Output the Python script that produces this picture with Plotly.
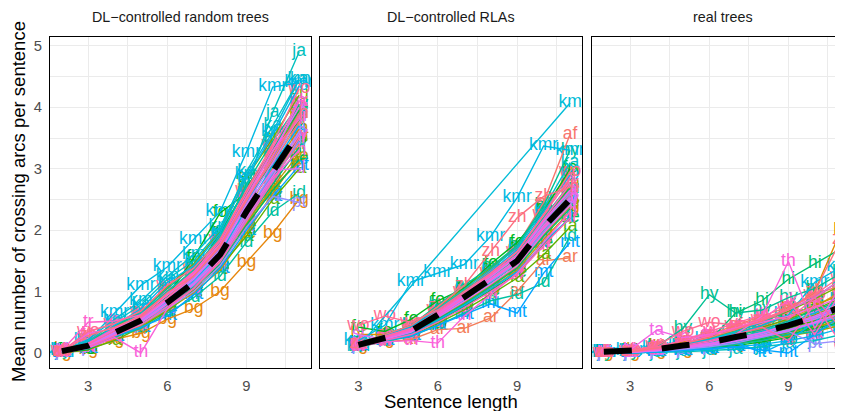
import math
import plotly.graph_objects as go

# ---------------- data ----------------
LANGS = ["af", "ar", "be", "bg", "br", "ca", "cs", "de", "el", "en", "es", "et",
         "eu", "fa", "fi", "fo", "fr", "he", "hi", "hu", "hy", "id", "it", "ja",
         "ka", "km", "kmr", "ko", "lt", "lv", "mt", "nl", "pl", "pt", "ro", "ru",
         "sk", "sl", "sv", "ta", "th", "tr", "uk", "ur", "vi", "wo", "zh"]

PANELS = ["DL\u2212controlled random trees", "DL\u2212controlled RLAs", "real trees"]

X_RANDOM = [2, 3, 4, 5, 6, 7, 8, 9, 10, 11]
X_RLA = [3, 4, 5, 6, 7, 8, 9, 10, 11]
X_REAL = [2, 3, 4, 5, 6, 7, 8, 9, 10, 11]

RANDOM_TREES = {
    "af":  [0.02, 0.15, 0.38, 0.60, 0.95, 1.30, 1.75, 2.55, 3.10, 3.75],
    "ar":  [0.03, 0.08, 0.30, 0.38, 0.75, 1.05, 1.50, 2.20, 2.85, 3.40],
    "be":  [0.02, 0.12, 0.36, 0.62, 0.98, 1.32, 1.82, 2.62, 3.35, 4.00],
    "bg":  [0.00, 0.05, 0.22, 0.32, 0.55, 0.72, 1.00, 1.47, 1.95, 2.50],
    "br":  [0.05, 0.18, 0.40, 0.50, 0.85, 1.10, 1.45, 2.05, 2.70, 3.10],
    "ca":  [0.02, 0.10, 0.28, 0.55, 0.78, 1.20, 1.65, 2.35, 3.00, 3.65],
    "cs":  [0.04, 0.14, 0.35, 0.48, 0.90, 1.12, 1.55, 2.10, 2.80, 3.55],
    "de":  [0.01, 0.09, 0.25, 0.45, 0.70, 0.98, 1.35, 1.95, 2.60, 3.20],
    "el":  [0.03, 0.10, 0.30, 0.50, 0.78, 1.08, 1.50, 2.12, 2.70, 3.25],
    "en":  [0.03, 0.20, 0.42, 0.62, 1.00, 1.35, 1.80, 2.60, 3.25, 3.90],
    "es":  [0.02, 0.11, 0.30, 0.50, 0.80, 1.10, 1.62, 2.25, 2.90, 3.50],
    "et":  [0.01, 0.13, 0.34, 0.56, 0.90, 1.26, 1.72, 2.48, 3.20, 3.95],
    "eu":  [0.02, 0.16, 0.42, 0.68, 1.08, 1.45, 1.98, 2.85, 3.50, 4.20],
    "fa":  [0.00, 0.06, 0.20, 0.42, 0.68, 1.02, 1.40, 1.90, 2.50, 3.00],
    "fi":  [0.03, 0.13, 0.36, 0.58, 0.88, 1.25, 1.70, 2.45, 3.15, 3.80],
    "fo":  [0.02, 0.05, 0.33, 0.60, 0.92, 1.55, 2.28, 2.60, 3.05, 3.45],
    "fr":  [0.04, 0.16, 0.38, 0.56, 0.85, 1.30, 1.95, 2.70, 3.30, 3.95],
    "he":  [0.03, 0.11, 0.29, 0.48, 0.74, 1.05, 1.44, 2.08, 2.65, 3.15],
    "hi":  [0.01, 0.10, 0.28, 0.47, 0.78, 1.08, 1.45, 2.15, 2.75, 3.35],
    "hu":  [0.02, 0.14, 0.38, 0.60, 0.95, 1.30, 1.80, 2.58, 3.30, 4.05],
    "hy":  [0.03, 0.17, 0.44, 0.66, 1.05, 1.40, 1.85, 2.75, 3.45, 4.05],
    "id":  [0.02, 0.08, 0.26, 0.40, 0.65, 0.90, 1.25, 1.80, 2.30, 2.60],
    "it":  [0.03, 0.12, 0.31, 0.50, 0.80, 1.12, 1.56, 2.22, 2.85, 3.45],
    "ja":  [0.02, 0.15, 0.40, 0.65, 1.00, 1.35, 1.90, 2.70, 3.92, 4.90],
    "ka":  [0.02, 0.18, 0.50, 0.78, 1.20, 1.50, 2.00, 2.95, 3.70, 4.45],
    "km":  [0.03, 0.22, 0.55, 0.85, 1.25, 1.60, 2.05, 2.90, 3.60, 4.45],
    "kmr": [0.00, 0.20, 0.65, 1.10, 1.40, 1.85, 2.30, 3.27, 4.33, 4.40],
    "ko":  [0.04, 0.12, 0.45, 0.72, 1.15, 1.42, 1.95, 2.85, 3.55, 4.35],
    "lt":  [0.02, 0.14, 0.35, 0.55, 0.85, 1.18, 1.62, 2.35, 3.05, 3.70],
    "lv":  [0.02, 0.13, 0.35, 0.57, 0.88, 1.22, 1.70, 2.45, 3.18, 3.90],
    "mt":  [0.01, 0.07, 0.27, 0.42, 0.60, 0.95, 1.38, 2.00, 2.55, 3.05],
    "nl":  [0.03, 0.12, 0.32, 0.52, 0.83, 1.16, 1.58, 2.28, 2.92, 3.60],
    "pl":  [0.02, 0.10, 0.31, 0.50, 0.76, 1.10, 1.52, 2.18, 2.82, 3.45],
    "pt":  [0.02, 0.09, 0.29, 0.46, 0.72, 1.00, 1.42, 2.05, 2.55, 2.45],
    "ro":  [0.03, 0.12, 0.32, 0.51, 0.82, 1.14, 1.58, 2.30, 2.95, 3.60],
    "ru":  [0.04, 0.15, 0.37, 0.57, 0.90, 1.22, 1.68, 2.42, 3.10, 3.85],
    "sk":  [0.02, 0.15, 0.38, 0.60, 0.94, 1.28, 1.76, 2.52, 3.28, 4.00],
    "sl":  [0.03, 0.13, 0.34, 0.54, 0.86, 1.20, 1.66, 2.40, 2.98, 3.00],
    "sv":  [0.02, 0.11, 0.30, 0.49, 0.80, 1.12, 1.55, 2.25, 2.88, 3.55],
    "ta":  [0.03, 0.32, 0.40, 0.55, 0.88, 1.28, 1.72, 2.50, 3.20, 4.10],
    "th":  [0.00, 0.08, 0.25, 0.00, 0.72, 1.05, 1.52, 2.20, 2.85, 3.30],
    "tr":  [0.04, 0.50, 0.52, 0.62, 0.95, 1.30, 1.78, 2.55, 3.30, 3.80],
    "uk":  [0.03, 0.16, 0.40, 0.62, 0.96, 1.32, 1.82, 2.60, 3.35, 4.10],
    "ur":  [0.01, 0.10, 0.28, 0.46, 0.75, 1.05, 1.48, 2.15, 2.80, 3.50],
    "vi":  [0.02, 0.14, 0.36, 0.58, 0.90, 1.25, 1.72, 2.48, 3.22, 3.85],
    "wo":  [0.03, 0.35, 0.48, 0.68, 1.10, 1.38, 1.85, 2.65, 3.40, 4.30],
    "zh":  [0.02, 0.28, 0.42, 0.60, 0.98, 1.25, 1.75, 2.50, 3.15, 3.90],
}

RLA = {
    "af":  [0.15, 0.28, 0.42, 0.70, 1.00, 1.35, 1.75, 2.45, 3.56],
    "ar":  [0.10, 0.18, 0.22, 0.38, 0.40, 0.57, 1.00, 1.50, 1.55],
    "be":  [0.14, 0.27, 0.40, 0.66, 0.96, 1.27, 1.60, 2.18, 2.70],
    "bg":  [0.12, 0.22, 0.33, 0.55, 0.82, 1.10, 1.42, 1.95, 2.40],
    "br":  [0.30, 0.30, 0.40, 0.65, 0.95, 1.25, 1.55, 2.10, 2.65],
    "ca":  [0.14, 0.26, 0.38, 0.64, 0.92, 1.22, 1.52, 2.10, 2.55],
    "cs":  [0.11, 0.20, 0.30, 0.52, 0.78, 1.05, 1.35, 1.85, 2.30],
    "de":  [0.13, 0.24, 0.35, 0.60, 0.88, 1.18, 1.48, 2.00, 2.45],
    "el":  [0.12, 0.22, 0.33, 0.56, 0.82, 1.10, 1.40, 1.92, 2.38],
    "en":  [0.16, 0.30, 0.44, 0.72, 1.02, 1.30, 1.65, 2.20, 2.75],
    "es":  [0.12, 0.23, 0.34, 0.58, 0.85, 1.15, 1.45, 2.00, 2.50],
    "et":  [0.13, 0.25, 0.37, 0.63, 0.92, 1.22, 1.55, 2.10, 2.60],
    "eu":  [0.15, 0.30, 0.44, 0.74, 1.06, 1.38, 1.72, 2.35, 2.95],
    "fa":  [0.10, 0.20, 0.28, 0.48, 0.70, 0.95, 1.22, 1.60, 2.05],
    "fi":  [0.14, 0.27, 0.40, 0.66, 0.95, 1.25, 1.60, 2.15, 2.70],
    "fo":  [0.42, 0.35, 0.55, 0.85, 1.05, 1.45, 1.80, 2.30, 3.00],
    "fr":  [0.13, 0.25, 0.37, 0.62, 0.90, 1.20, 1.50, 2.05, 2.55],
    "he":  [0.11, 0.21, 0.31, 0.52, 0.76, 1.02, 1.30, 1.78, 2.20],
    "hi":  [0.12, 0.22, 0.32, 0.55, 0.80, 1.08, 1.38, 1.90, 2.35],
    "hu":  [0.14, 0.26, 0.39, 0.65, 0.95, 1.26, 1.58, 2.15, 2.68],
    "hy":  [0.15, 0.30, 0.45, 0.78, 1.10, 1.40, 1.75, 2.40, 3.30],
    "id":  [0.10, 0.19, 0.27, 0.45, 0.65, 0.85, 0.95, 1.14, 1.90],
    "it":  [0.12, 0.23, 0.35, 0.59, 0.86, 1.15, 1.46, 1.98, 2.45],
    "ja":  [0.13, 0.26, 0.40, 0.68, 0.98, 1.30, 1.62, 2.20, 2.75],
    "ka":  [0.15, 0.29, 0.43, 0.72, 1.04, 1.36, 1.72, 2.35, 3.10],
    "km":  [0.10, None, None, None, None, None, None, None, 4.07],
    "kmr": [0.20, 0.45, 1.16, 1.30, 1.44, 1.90, 2.53, 3.37, 3.30],
    "ko":  [0.14, 0.28, 0.42, 0.70, 1.00, 1.32, 1.68, 2.30, 2.90],
    "lt":  [0.11, 0.21, 0.31, 0.53, 0.78, 1.05, 1.32, 1.80, 2.20],
    "lv":  [0.13, 0.25, 0.37, 0.62, 0.90, 1.20, 1.52, 2.06, 2.55],
    "mt":  [0.12, 0.20, 0.28, 0.45, 0.62, 0.80, 0.65, 1.30, 1.80],
    "nl":  [0.13, 0.24, 0.36, 0.61, 0.89, 1.19, 1.50, 2.05, 2.50],
    "pl":  [0.12, 0.23, 0.35, 0.60, 0.87, 1.16, 1.46, 1.98, 2.45],
    "pt":  [0.14, 0.26, 0.38, 0.64, 0.93, 1.24, 1.56, 2.12, 2.60],
    "ro":  [0.12, 0.24, 0.36, 0.61, 0.88, 1.18, 1.50, 2.04, 2.52],
    "ru":  [0.13, 0.25, 0.37, 0.63, 0.91, 1.21, 1.52, 2.08, 2.52],
    "sk":  [0.14, 0.26, 0.38, 0.64, 0.94, 1.25, 1.57, 2.14, 2.65],
    "sl":  [0.30, 0.22, 0.34, 0.58, 0.84, 1.12, 1.42, 1.95, 2.40],
    "sv":  [0.12, 0.24, 0.36, 0.60, 0.88, 1.18, 1.48, 2.02, 2.48],
    "ta":  [0.14, 0.27, 0.40, 0.66, 0.96, 1.28, 1.60, 2.15, 2.65],
    "th":  [0.11, 0.18, 0.20, 0.16, 0.60, 0.95, 1.30, 1.80, 2.30],
    "tr":  [0.13, 0.25, 0.37, 0.62, 0.90, 1.20, 1.50, 2.05, 2.55],
    "uk":  [0.13, 0.25, 0.38, 0.65, 0.95, 1.26, 1.60, 2.18, 2.75],
    "ur":  [0.11, 0.20, 0.30, 0.50, 0.74, 1.00, 1.28, 1.75, 2.20],
    "vi":  [0.14, 0.27, 0.40, 0.68, 0.98, 1.30, 1.65, 2.25, 2.85],
    "wo":  [0.45, 0.60, 0.50, 0.70, 1.00, 1.30, 1.65, 2.25, 2.95],
    "zh":  [0.15, 0.30, 0.45, 0.75, 1.10, 1.65, 2.20, 2.55, 2.70],
}

REAL_TREES = {
    "af":  [0.00, 0.02, 0.08, 0.20, 0.30, 0.45, 0.60, 0.75, 0.95, 1.10],
    "ar":  [0.00, 0.01, 0.05, 0.10, 0.15, 0.22, 0.30, 0.42, 0.50, 0.70],
    "be":  [0.00, 0.02, 0.06, 0.12, 0.20, 0.30, 0.40, 0.55, 0.75, 1.00],
    "bg":  [0.00, 0.00, 0.03, 0.06, 0.10, 0.15, 0.22, 0.30, 0.40, 0.55],
    "br":  [0.00, 0.04, 0.10, 0.18, 0.25, 0.35, 0.50, 0.70, 1.00, 2.00],
    "ca":  [0.00, 0.01, 0.04, 0.08, 0.12, 0.20, 0.28, 0.38, 0.50, 0.62],
    "cs":  [0.00, 0.02, 0.05, 0.10, 0.15, 0.25, 0.32, 0.45, 0.55, 0.70],
    "de":  [0.00, 0.03, 0.08, 0.15, 0.22, 0.33, 0.45, 0.60, 0.78, 0.95],
    "el":  [0.00, 0.01, 0.04, 0.08, 0.13, 0.20, 0.28, 0.40, 0.52, 0.66],
    "en":  [0.00, 0.01, 0.03, 0.06, 0.10, 0.15, 0.20, 0.28, 0.35, 0.45],
    "es":  [0.00, 0.01, 0.04, 0.07, 0.11, 0.18, 0.25, 0.33, 0.42, 0.55],
    "et":  [0.00, 0.02, 0.05, 0.10, 0.16, 0.25, 0.35, 0.48, 0.62, 0.80],
    "eu":  [0.00, 0.03, 0.08, 0.15, 0.24, 0.36, 0.50, 0.68, 0.88, 1.10],
    "fa":  [0.00, 0.02, 0.06, 0.12, 0.20, 0.30, 0.42, 0.55, 0.70, 0.90],
    "fi":  [0.00, 0.01, 0.04, 0.09, 0.14, 0.22, 0.30, 0.40, 0.52, 0.68],
    "fo":  [0.00, 0.00, 0.02, 0.05, 0.08, 0.12, 0.18, 0.25, 0.45, 0.60],
    "fr":  [0.00, 0.01, 0.03, 0.07, 0.10, 0.16, 0.22, 0.30, 0.40, 0.50],
    "he":  [0.00, 0.01, 0.03, 0.07, 0.11, 0.17, 0.24, 0.34, 0.45, 0.58],
    "hi":  [0.00, 0.02, 0.06, 0.10, 0.20, 0.65, 0.85, 1.20, 1.45, 1.70],
    "hu":  [0.00, 0.02, 0.06, 0.12, 0.20, 0.28, 0.38, 0.52, 0.70, 0.85],
    "hy":  [0.00, 0.02, 0.10, 0.40, 0.95, 0.65, 0.70, 0.90, 1.05, 1.30],
    "id":  [0.00, 0.01, 0.03, 0.06, 0.09, 0.14, 0.20, 0.30, 0.35, 0.50],
    "it":  [0.00, 0.01, 0.04, 0.08, 0.12, 0.18, 0.26, 0.36, 0.46, 0.60],
    "ja":  [0.00, 0.00, 0.01, 0.02, 0.04, 0.06, 0.10, 0.15, 0.20, 0.30],
    "ka":  [0.00, 0.02, 0.07, 0.14, 0.22, 0.35, 0.50, 0.70, 0.90, 1.20],
    "km":  [0.00, 0.02, 0.05, 0.10, 0.16, 0.24, 0.35, 0.50, 0.65, 0.85],
    "kmr": [0.00, 0.03, 0.08, 0.14, 0.22, 0.32, 0.45, 0.62, 1.15, 1.40],
    "ko":  [0.00, 0.00, 0.02, 0.04, 0.06, 0.10, 0.14, 0.20, 0.28, 0.40],
    "lt":  [0.00, 0.01, 0.03, 0.07, 0.12, 0.18, 0.00, 0.20, 0.50, 0.90],
    "lv":  [0.00, 0.02, 0.05, 0.10, 0.15, 0.22, 0.32, 0.45, 0.60, 0.75],
    "mt":  [0.00, 0.00, 0.02, 0.04, 0.07, 0.10, 0.05, 0.00, 0.30, 0.60],
    "nl":  [0.00, 0.02, 0.05, 0.10, 0.15, 0.24, 0.32, 0.44, 0.58, 0.72],
    "pl":  [0.00, 0.01, 0.04, 0.08, 0.13, 0.20, 0.27, 0.37, 0.48, 0.60],
    "pt":  [0.00, 0.01, 0.03, 0.06, 0.10, 0.16, 0.25, 0.35, 0.15, 0.20],
    "ro":  [0.00, 0.01, 0.04, 0.08, 0.13, 0.20, 0.28, 0.38, 0.50, 0.65],
    "ru":  [0.00, 0.02, 0.05, 0.09, 0.14, 0.22, 0.30, 0.42, 0.55, 0.70],
    "sk":  [0.00, 0.02, 0.05, 0.10, 0.15, 0.24, 0.33, 0.46, 0.58, 0.74],
    "sl":  [0.00, 0.01, 0.04, 0.08, 0.12, 0.19, 0.27, 0.36, 0.50, 0.65],
    "sv":  [0.00, 0.02, 0.05, 0.09, 0.15, 0.23, 0.33, 0.46, 0.60, 0.78],
    "ta":  [0.00, 0.05, 0.37, 0.25, 0.30, 0.40, 0.50, 0.60, 0.75, 0.90],
    "th":  [0.00, 0.01, 0.05, 0.10, 0.18, 0.30, 0.60, 1.49, 0.40, 1.10],
    "tr":  [0.00, 0.03, 0.10, 0.20, 0.30, 0.40, 0.55, 0.70, 0.90, 1.20],
    "uk":  [0.00, 0.03, 0.08, 0.16, 0.28, 0.40, 0.55, 0.85, 0.30, 1.00],
    "ur":  [0.00, 0.02, 0.06, 0.12, 0.20, 0.30, 0.42, 0.20, 0.80, 0.15],
    "vi":  [0.00, 0.04, 0.10, 0.20, 0.35, 0.48, 0.62, 0.55, 0.90, 0.40],
    "wo":  [0.00, 0.04, 0.12, 0.35, 0.50, 0.45, 0.55, 0.72, 0.95, 1.25],
    "zh":  [0.00, 0.02, 0.08, 0.15, 0.25, 0.38, 0.52, 0.70, 1.00, 1.85],
}

MEAN_RANDOM = [0.03, 0.12, 0.33, 0.53, 0.82, 1.15, 1.60, 2.30, 2.95, 3.60]
MEAN_RLA = [0.13, 0.25, 0.36, 0.62, 0.90, 1.20, 1.50, 2.05, 2.50]
MEAN_REAL = [0.02, 0.03, 0.06, 0.12, 0.17, 0.26, 0.34, 0.45, 0.58, 0.75]

X_TICKS = [3, 6, 9]
Y_TICKS = [0, 1, 2, 3, 4, 5]


# ---------------- styling helpers ----------------
def hcl_hex(h, c=100.0, l=65.0):
    hr = math.radians(h)
    u, v = c * math.cos(hr), c * math.sin(hr)
    xn, yn, zn = 95.047, 100.0, 108.883
    un = 4 * xn / (xn + 15 * yn + 3 * zn)
    vn = 9 * yn / (xn + 15 * yn + 3 * zn)
    Y = yn * ((l + 16) / 116) ** 3
    up = u / (13 * l) + un
    vp = v / (13 * l) + vn
    X = 9.0 * Y * up / (4 * vp)
    Z = -X / 3 - 5 * Y + 3 * Y / vp
    X, Y, Z = X / 100, Y / 100, Z / 100
    rgb = [3.240479 * X - 1.537150 * Y - 0.498535 * Z,
           -0.969256 * X + 1.875992 * Y + 0.041556 * Z,
           0.055648 * X - 0.204043 * Y + 1.057311 * Z]
    out = []
    for ch in rgb:
        ch = 12.92 * ch if ch <= 0.0031308 else 1.055 * ch ** (1 / 2.4) - 0.055
        out.append(int(round(min(max(ch, 0), 1) * 255)))
    return "#%02X%02X%02X" % tuple(out)


N = len(LANGS)
COLORS = {lang: hcl_hex(15 + 360.0 * i / N) for i, lang in enumerate(LANGS)}

# The page body keeps an 8px margin, so the figure is drawn 8px in from the
# top-left corner of the 843x411 window.
OFF = 8
W, H = 843 - OFF, 411 - OFF
FONT = "Liberation Sans, Arial, Helvetica, sans-serif"


def px_x(p):
    return (p - OFF) / W


def px_y(p):
    return 1 - (p - OFF) / H


x_domains = [[px_x(50), px_x(311)], [px_x(320), px_x(582)], [px_x(592), 1.0]]
x_ranges = [[1.55, 11.45], [1.55, 11.45], [1.55, 1.55 + (843 - 592) * 9.9 / 261]]
y_domain = [px_y(368), px_y(37)]
y_range = [-0.245, 5.145]

fig = go.Figure()

panel_data = [(X_RANDOM, RANDOM_TREES, MEAN_RANDOM),
              (X_RLA, RLA, MEAN_RLA),
              (X_REAL, REAL_TREES, MEAN_REAL)]

for k, (xs, table, mean) in enumerate(panel_data):
    xa = "x" if k == 0 else "x%d" % (k + 1)
    ya = "y" if k == 0 else "y%d" % (k + 1)
    for lang in LANGS:
        fig.add_trace(go.Scatter(
            x=xs, y=table[lang], mode="text", text=[lang] * len(xs),
            textposition="middle center",
            textfont=dict(color=COLORS[lang], size=17.5, family=FONT),
            xaxis=xa, yaxis=ya, showlegend=False, hoverinfo="skip"))
    for lang in LANGS:
        fig.add_trace(go.Scatter(
            x=xs, y=table[lang], mode="lines", connectgaps=True,
            line=dict(color=COLORS[lang], width=1.4),
            xaxis=xa, yaxis=ya, showlegend=False, hoverinfo="skip"))
    fig.add_trace(go.Scatter(
        x=xs, y=mean, mode="lines",
        line=dict(color="black", width=6, dash="28px,30px"),
        xaxis=xa, yaxis=ya, showlegend=False, hoverinfo="skip"))

grid_col = "#EBEBEB"
for k in range(3):
    sfx = "" if k == 0 else str(k + 1)
    fig.layout["xaxis" + sfx] = dict(
        domain=x_domains[k], range=x_ranges[k], anchor="y" + sfx,
        tickvals=X_TICKS, ticktext=[str(t) for t in X_TICKS],
        showgrid=True, gridcolor=grid_col, gridwidth=1.4,
        minor=dict(tickvals=[4.5, 7.5, 10.5], showgrid=True,
                   gridcolor=grid_col, gridwidth=0.7, ticks=""),
        showline=True, linecolor="black", linewidth=1.2, mirror=True,
        ticks="outside", ticklen=4, tickcolor="rgba(0,0,0,0)",
        tickfont=dict(size=14.8, color="#4D4D4D", family=FONT),
        zeroline=False, fixedrange=True, automargin=False)
    fig.layout["yaxis" + sfx] = dict(
        domain=y_domain, range=y_range, anchor="x" + sfx,
        tickvals=Y_TICKS, ticktext=[str(t) for t in Y_TICKS],
        showticklabels=(k == 0),
        showgrid=True, gridcolor=grid_col, gridwidth=1.4,
        minor=dict(tickvals=[0.5, 1.5, 2.5, 3.5, 4.5], showgrid=True,
                   gridcolor=grid_col, gridwidth=0.7, ticks=""),
        showline=True, linecolor="black", linewidth=1.2, mirror=(k < 2),
        ticks="outside", ticklen=4, tickcolor="rgba(0,0,0,0)",
        tickfont=dict(size=14.8, color="#4D4D4D", family=FONT),
        zeroline=False, fixedrange=True, automargin=False)

annotations = []
strip_centers = [(50 + 311) / 2, (320 + 582) / 2, (592 + 853) / 2]
for title, cx in zip(PANELS, strip_centers):
    annotations.append(dict(
        text=title, x=px_x(cx), y=px_y(17), xref="paper", yref="paper",
        xanchor="center", yanchor="middle", showarrow=False,
        font=dict(size=14.3, color="#1A1A1A", family=FONT)))
annotations.append(dict(
    text="Sentence length", x=px_x(451), y=px_y(401), xref="paper", yref="paper",
    xanchor="center", yanchor="middle", showarrow=False,
    font=dict(size=18.5, color="black", family=FONT)))
annotations.append(dict(
    text="Mean number of crossing arcs per sentence", x=px_x(18), y=px_y(202),
    xref="paper", yref="paper", xanchor="center", yanchor="middle",
    showarrow=False, textangle=-90,
    font=dict(size=18.5, color="black", family=FONT)))

fig.update_layout(
    width=W, height=H, margin=dict(l=0, r=0, t=0, b=0),
    paper_bgcolor="white", plot_bgcolor="white",
    showlegend=False, annotations=annotations,
    font=dict(family=FONT))

fig.write_html("out.html")
